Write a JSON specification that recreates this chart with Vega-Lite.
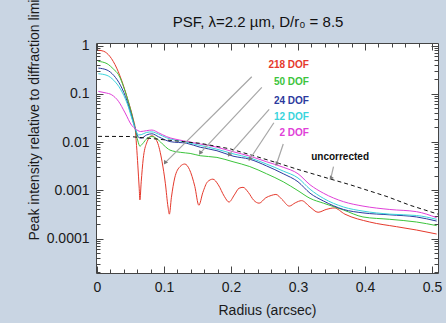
{
  "$schema": "https://vega.github.io/schema/vega-lite/v6.json",
  "width": 342,
  "height": 230,
  "autosize": {"type": "none"},
  "padding": {"left": 96, "top": 43, "right": 8, "bottom": 50},
  "background": "#c9d5e3",
  "title": {"text": "PSF, λ=2.2 µm, D/r₀ = 8.5", "fontSize": 15, "font": "Liberation Sans", "fontWeight": "normal", "color": "#111111", "dx": -9, "offset": 18, "dy": 65, "baseline": "alphabetic"},
  "config": {
    "view": {"fill": "#ffffff", "stroke": "#444444", "strokeWidth": 1},
    "font": "Liberation Sans",
    "axis": {"grid": false, "domain": false, "labelFont": "Liberation Sans", "titleFont": "Liberation Sans", "labelColor": "#1a1a1a", "titleColor": "#1a1a1a", "tickColor": "#444444", "labelFontSize": 14, "titleFontSize": 14, "titleFontWeight": "normal", "labelOverlap": false, "labelFlush": false}
  },
  "datasets": {
    "curves": [
      {"s":"218 DOF","x":0.002,"y":0.80},{"s":"218 DOF","x":0.010,"y":0.76},{"s":"218 DOF","x":0.019,"y":0.60},{"s":"218 DOF","x":0.0294,"y":0.34},{"s":"218 DOF","x":0.039,"y":0.154},{"s":"218 DOF","x":0.0467,"y":0.070},{"s":"218 DOF","x":0.054,"y":0.030},{"s":"218 DOF","x":0.057,"y":0.019},{"s":"218 DOF","x":0.059,"y":0.0085},{"s":"218 DOF","x":0.061,"y":0.0032},{"s":"218 DOF","x":0.063,"y":0.0011},{"s":"218 DOF","x":0.064,"y":0.00063},{"s":"218 DOF","x":0.066,"y":0.0015},{"s":"218 DOF","x":0.069,"y":0.0045},{"s":"218 DOF","x":0.074,"y":0.0095},{"s":"218 DOF","x":0.082,"y":0.0135},{"s":"218 DOF","x":0.090,"y":0.0100},{"s":"218 DOF","x":0.097,"y":0.0040},{"s":"218 DOF","x":0.102,"y":0.0014},{"s":"218 DOF","x":0.106,"y":0.00045},{"s":"218 DOF","x":0.108,"y":0.00032},{"s":"218 DOF","x":0.111,"y":0.0007},{"s":"218 DOF","x":0.116,"y":0.0018},{"s":"218 DOF","x":0.124,"y":0.0031},{"s":"218 DOF","x":0.131,"y":0.0035},{"s":"218 DOF","x":0.138,"y":0.0027},{"s":"218 DOF","x":0.146,"y":0.0012},{"s":"218 DOF","x":0.152,"y":0.00049},{"s":"218 DOF","x":0.158,"y":0.0009},{"s":"218 DOF","x":0.165,"y":0.0015},{"s":"218 DOF","x":0.173,"y":0.0017},{"s":"218 DOF","x":0.181,"y":0.0013},{"s":"218 DOF","x":0.190,"y":0.00075},{"s":"218 DOF","x":0.197,"y":0.00057},{"s":"218 DOF","x":0.205,"y":0.0008},{"s":"218 DOF","x":0.212,"y":0.0011},{"s":"218 DOF","x":0.218,"y":0.00115},{"s":"218 DOF","x":0.226,"y":0.0009},{"s":"218 DOF","x":0.234,"y":0.00062},{"s":"218 DOF","x":0.242,"y":0.00054},{"s":"218 DOF","x":0.252,"y":0.0007},{"s":"218 DOF","x":0.260,"y":0.00078},{"s":"218 DOF","x":0.267,"y":0.00082},{"s":"218 DOF","x":0.276,"y":0.00065},{"s":"218 DOF","x":0.287,"y":0.00047},{"s":"218 DOF","x":0.296,"y":0.00055},{"s":"218 DOF","x":0.3055,"y":0.00061},{"s":"218 DOF","x":0.318,"y":0.00045},{"s":"218 DOF","x":0.330,"y":0.00035},{"s":"218 DOF","x":0.342,"y":0.0004},{"s":"218 DOF","x":0.354,"y":0.00043},{"s":"218 DOF","x":0.370,"y":0.00032},{"s":"218 DOF","x":0.407,"y":0.00022},{"s":"218 DOF","x":0.447,"y":0.000176},{"s":"218 DOF","x":0.477,"y":0.00015},{"s":"218 DOF","x":0.507,"y":0.000124},
      {"s":"50 DOF","x":0.002,"y":0.47},{"s":"50 DOF","x":0.015,"y":0.42},{"s":"50 DOF","x":0.025,"y":0.32},{"s":"50 DOF","x":0.032,"y":0.25},{"s":"50 DOF","x":0.042,"y":0.112},{"s":"50 DOF","x":0.052,"y":0.037},{"s":"50 DOF","x":0.057,"y":0.019},{"s":"50 DOF","x":0.061,"y":0.0105},{"s":"50 DOF","x":0.064,"y":0.0082},{"s":"50 DOF","x":0.068,"y":0.0092},{"s":"50 DOF","x":0.075,"y":0.0120},{"s":"50 DOF","x":0.082,"y":0.0130},{"s":"50 DOF","x":0.090,"y":0.0115},{"s":"50 DOF","x":0.100,"y":0.0085},{"s":"50 DOF","x":0.109,"y":0.0068},{"s":"50 DOF","x":0.125,"y":0.0061},{"s":"50 DOF","x":0.139,"y":0.0058},{"s":"50 DOF","x":0.154,"y":0.0052},{"s":"50 DOF","x":0.179,"y":0.0048},{"s":"50 DOF","x":0.203,"y":0.0039},{"s":"50 DOF","x":0.228,"y":0.0031},{"s":"50 DOF","x":0.253,"y":0.0022},{"s":"50 DOF","x":0.278,"y":0.0015},{"s":"50 DOF","x":0.300,"y":0.00098},{"s":"50 DOF","x":0.318,"y":0.00068},{"s":"50 DOF","x":0.338,"y":0.00054},{"s":"50 DOF","x":0.368,"y":0.00039},{"s":"50 DOF","x":0.397,"y":0.00028},{"s":"50 DOF","x":0.437,"y":0.00025},{"s":"50 DOF","x":0.477,"y":0.00022},{"s":"50 DOF","x":0.507,"y":0.000185},
      {"s":"24 DOF","x":0.002,"y":0.34},{"s":"24 DOF","x":0.015,"y":0.31},{"s":"24 DOF","x":0.025,"y":0.24},{"s":"24 DOF","x":0.035,"y":0.15},{"s":"24 DOF","x":0.045,"y":0.07},{"s":"24 DOF","x":0.052,"y":0.033},{"s":"24 DOF","x":0.057,"y":0.019},{"s":"24 DOF","x":0.062,"y":0.0125},{"s":"24 DOF","x":0.066,"y":0.012},{"s":"24 DOF","x":0.074,"y":0.0140},{"s":"24 DOF","x":0.082,"y":0.0148},{"s":"24 DOF","x":0.092,"y":0.0128},{"s":"24 DOF","x":0.109,"y":0.0102},{"s":"24 DOF","x":0.134,"y":0.0094},{"s":"24 DOF","x":0.154,"y":0.0078},{"s":"24 DOF","x":0.179,"y":0.0066},{"s":"24 DOF","x":0.203,"y":0.0051},{"s":"24 DOF","x":0.228,"y":0.0044},{"s":"24 DOF","x":0.253,"y":0.0032},{"s":"24 DOF","x":0.278,"y":0.0022},{"s":"24 DOF","x":0.300,"y":0.0015},{"s":"24 DOF","x":0.318,"y":0.00087},{"s":"24 DOF","x":0.338,"y":0.0006},{"s":"24 DOF","x":0.368,"y":0.0004},{"s":"24 DOF","x":0.397,"y":0.00034},{"s":"24 DOF","x":0.437,"y":0.00031},{"s":"24 DOF","x":0.477,"y":0.00028},{"s":"24 DOF","x":0.507,"y":0.00023},
      {"s":"12 DOF","x":0.002,"y":0.26},{"s":"12 DOF","x":0.015,"y":0.24},{"s":"12 DOF","x":0.025,"y":0.19},{"s":"12 DOF","x":0.035,"y":0.125},{"s":"12 DOF","x":0.045,"y":0.063},{"s":"12 DOF","x":0.052,"y":0.031},{"s":"12 DOF","x":0.057,"y":0.019},{"s":"12 DOF","x":0.062,"y":0.014},{"s":"12 DOF","x":0.066,"y":0.0142},{"s":"12 DOF","x":0.074,"y":0.0158},{"s":"12 DOF","x":0.082,"y":0.0162},{"s":"12 DOF","x":0.092,"y":0.0145},{"s":"12 DOF","x":0.104,"y":0.0122},{"s":"12 DOF","x":0.129,"y":0.0102},{"s":"12 DOF","x":0.154,"y":0.0085},{"s":"12 DOF","x":0.179,"y":0.0071},{"s":"12 DOF","x":0.203,"y":0.0057},{"s":"12 DOF","x":0.228,"y":0.0047},{"s":"12 DOF","x":0.253,"y":0.0035},{"s":"12 DOF","x":0.278,"y":0.0025},{"s":"12 DOF","x":0.300,"y":0.0018},{"s":"12 DOF","x":0.318,"y":0.00105},{"s":"12 DOF","x":0.338,"y":0.00068},{"s":"12 DOF","x":0.368,"y":0.00045},{"s":"12 DOF","x":0.397,"y":0.00037},{"s":"12 DOF","x":0.437,"y":0.00032},{"s":"12 DOF","x":0.477,"y":0.0003},{"s":"12 DOF","x":0.507,"y":0.00025},
      {"s":"2 DOF","x":0.002,"y":0.112},{"s":"2 DOF","x":0.012,"y":0.105},{"s":"2 DOF","x":0.022,"y":0.095},{"s":"2 DOF","x":0.032,"y":0.07},{"s":"2 DOF","x":0.042,"y":0.040},{"s":"2 DOF","x":0.052,"y":0.022},{"s":"2 DOF","x":0.057,"y":0.019},{"s":"2 DOF","x":0.065,"y":0.0165},{"s":"2 DOF","x":0.074,"y":0.0172},{"s":"2 DOF","x":0.082,"y":0.0177},{"s":"2 DOF","x":0.092,"y":0.0155},{"s":"2 DOF","x":0.104,"y":0.0129},{"s":"2 DOF","x":0.129,"y":0.0106},{"s":"2 DOF","x":0.154,"y":0.0091},{"s":"2 DOF","x":0.179,"y":0.0078},{"s":"2 DOF","x":0.203,"y":0.0063},{"s":"2 DOF","x":0.228,"y":0.0051},{"s":"2 DOF","x":0.253,"y":0.0039},{"s":"2 DOF","x":0.278,"y":0.0030},{"s":"2 DOF","x":0.300,"y":0.0022},{"s":"2 DOF","x":0.318,"y":0.0013},{"s":"2 DOF","x":0.338,"y":0.00087},{"s":"2 DOF","x":0.368,"y":0.00058},{"s":"2 DOF","x":0.397,"y":0.00047},{"s":"2 DOF","x":0.437,"y":0.0004},{"s":"2 DOF","x":0.477,"y":0.00036},{"s":"2 DOF","x":0.507,"y":0.00027}
    ],
    "uncorr": [
      {"s":"uncorrected","x":0.0015,"y":0.0131},{"s":"uncorrected","x":0.049,"y":0.0130},{"s":"uncorrected","x":0.079,"y":0.0119},{"s":"uncorrected","x":0.154,"y":0.0094},{"s":"uncorrected","x":0.199,"y":0.0072},{"s":"uncorrected","x":0.240,"y":0.0049},{"s":"uncorrected","x":0.269,"y":0.0037},{"s":"uncorrected","x":0.300,"y":0.0027},{"s":"uncorrected","x":0.349,"y":0.0017},{"s":"uncorrected","x":0.378,"y":0.0013},{"s":"uncorrected","x":0.433,"y":0.00074},{"s":"uncorrected","x":0.467,"y":0.00049},{"s":"uncorrected","x":0.509,"y":0.00032}
    ],
    "arrows": [
      {"s":"218 DOF","x":0.231,"y":0.225,"x2":0.1015,"y2":0.0037},
      {"s":"50 DOF","x":0.246,"y":0.136,"x2":0.154,"y2":0.0059},
      {"s":"24 DOF","x":0.257,"y":0.0476,"x2":0.197,"y2":0.0054},
      {"s":"12 DOF","x":0.264,"y":0.0251,"x2":0.228,"y2":0.0044},
      {"s":"2 DOF","x":0.278,"y":0.0091,"x2":0.268,"y2":0.0035},
      {"s":"uncorrected","x":0.353,"y":0.00308,"x2":0.349,"y2":0.00177}
    ],
    "labels": [
      {"s":"218 DOF","x":0.3164,"y":0.394},
      {"s":"50 DOF","x":0.3164,"y":0.175},
      {"s":"24 DOF","x":0.3164,"y":0.072},
      {"s":"12 DOF","x":0.3164,"y":0.033},
      {"s":"2 DOF","x":0.3164,"y":0.0154},
      {"s":"uncorrected","x":0.406,"y":0.00489}
    ]
  },
  "resolve": {"axis": {"x": "independent", "y": "independent"}},
  "layer": [
    {
      "data": {"name": "curves"},
      "mark": {"type": "line", "strokeWidth": 1, "interpolate": "monotone"},
      "encoding": {
        "x": {"field": "x", "type": "quantitative", "scale": {"domain": [-0.0015, 0.509], "nice": false, "zero": false},
          "axis": {"orient": "bottom", "title": "Radius (arcsec)", "values": [0,0.02,0.04,0.06,0.08,0.1,0.12,0.14,0.16,0.18,0.2,0.22,0.24,0.26,0.28,0.3,0.32,0.34,0.36,0.38,0.4,0.42,0.44,0.46,0.48,0.5],
            "labelExpr": "indexof([0,0.1,0.2,0.3,0.4,0.5], datum.value) >= 0 ? format(datum.value, '~g') : ''",
            "tickSize": {"condition": {"test": "indexof([0,0.1,0.2,0.3,0.4,0.5], datum.value) >= 0", "value": -7}, "value": -4},
            "labelPadding": 14, "titlePadding": 6}},
        "y": {"field": "y", "type": "quantitative", "scale": {"type": "log", "domain": [1.93e-5, 1.127], "nice": false},
          "axis": {"orient": "left", "title": "Peak intensity relative to diffraction limit",
            "values": [2e-5,3e-5,4e-5,5e-5,6e-5,7e-5,8e-5,9e-5,0.0001,0.0002,0.0003,0.0004,0.0005,0.0006,0.0007,0.0008,0.0009,0.001,0.002,0.003,0.004,0.005,0.006,0.007,0.008,0.009,0.01,0.02,0.03,0.04,0.05,0.06,0.07,0.08,0.09,0.1,0.2,0.3,0.4,0.5,0.6,0.7,0.8,0.9,1],
            "labelExpr": "indexof([1,0.1,0.01,0.001,0.0001], datum.value) >= 0 ? format(datum.value, '~g') : ''",
            "tickSize": {"condition": {"test": "indexof([1,0.1,0.01,0.001,0.0001], datum.value) >= 0", "value": -7}, "value": -4},
            "labelPadding": 14, "titleAngle": 270, "titleAlign": "left", "titleBaseline": "alphabetic", "titleX": -58, "titleY": 197}},
        "color": {"field": "s", "type": "nominal", "legend": null,
          "scale": {"domain": ["218 DOF","50 DOF","24 DOF","12 DOF","2 DOF","uncorrected"], "range": ["#e5392c","#3cc43c","#2b3a9e","#3ad4dc","#e040d8","#111111"]}}
      }
    },
    {
      "data": {"name": "uncorr"},
      "mark": {"type": "line", "strokeWidth": 1, "strokeDash": [4, 3], "color": "#111111"},
      "encoding": {
        "x": {"field": "x", "type": "quantitative", "scale": {"domain": [-0.0015, 0.509], "nice": false, "zero": false},
          "axis": {"orient": "top", "title": null, "labels": false, "values": [0,0.02,0.04,0.06,0.08,0.1,0.12,0.14,0.16,0.18,0.2,0.22,0.24,0.26,0.28,0.3,0.32,0.34,0.36,0.38,0.4,0.42,0.44,0.46,0.48,0.5],
            "tickSize": {"condition": {"test": "indexof([0,0.1,0.2,0.3,0.4,0.5], datum.value) >= 0", "value": -7}, "value": -4}}},
        "y": {"field": "y", "type": "quantitative", "scale": {"type": "log", "domain": [1.93e-5, 1.127], "nice": false},
          "axis": {"orient": "right", "title": null, "labels": false,
            "values": [2e-5,3e-5,4e-5,5e-5,6e-5,7e-5,8e-5,9e-5,0.0001,0.0002,0.0003,0.0004,0.0005,0.0006,0.0007,0.0008,0.0009,0.001,0.002,0.003,0.004,0.005,0.006,0.007,0.008,0.009,0.01,0.02,0.03,0.04,0.05,0.06,0.07,0.08,0.09,0.1,0.2,0.3,0.4,0.5,0.6,0.7,0.8,0.9,1],
            "tickSize": {"condition": {"test": "indexof([1,0.1,0.01,0.001,0.0001], datum.value) >= 0", "value": -7}, "value": -4}}}
      }
    },
    {
      "data": {"name": "arrows"},
      "mark": {"type": "rule", "color": "#a6a6a6", "strokeWidth": 1.2},
      "encoding": {
        "x": {"field": "x", "type": "quantitative", "axis": null},
        "y": {"field": "y", "type": "quantitative", "axis": null},
        "x2": {"field": "x2"},
        "y2": {"field": "y2"}
      }
    },
    {
      "data": {"name": "arrows"},
      "mark": {"type": "point", "shape": "triangle-up", "filled": true, "size": 22, "angle": 213, "color": "#7a7a7a", "opacity": 1},
      "encoding": {
        "x": {"field": "x2", "type": "quantitative", "axis": null},
        "y": {"field": "y2", "type": "quantitative", "axis": null}
      }
    },
    {
      "data": {"name": "labels"},
      "mark": {"type": "text", "align": "right", "baseline": "middle", "fontSize": 10, "fontWeight": "bold", "font": "Liberation Sans"},
      "encoding": {
        "x": {"field": "x", "type": "quantitative", "axis": null},
        "y": {"field": "y", "type": "quantitative", "axis": null},
        "text": {"field": "s"},
        "color": {"field": "s", "type": "nominal", "legend": null}
      }
    }
  ]
}
